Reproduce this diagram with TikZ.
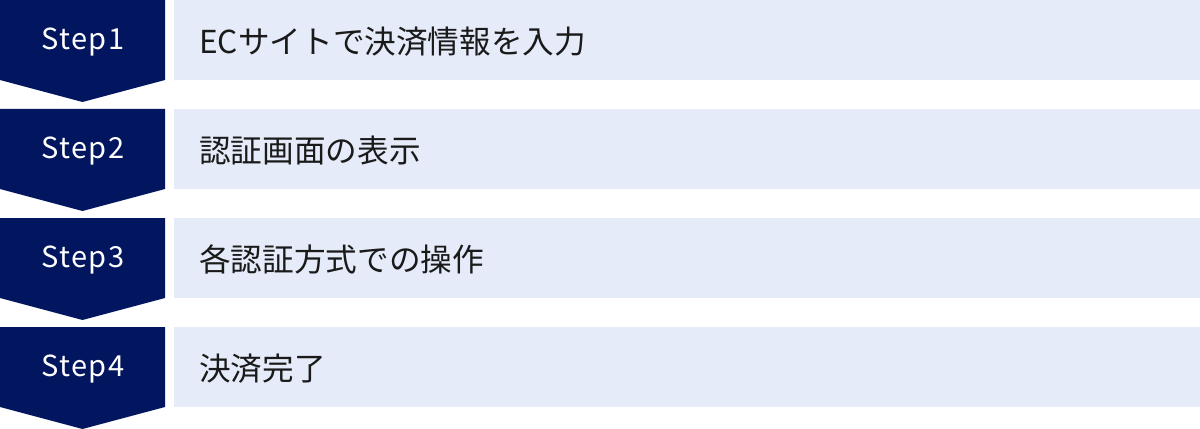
\documentclass[tikz,border=0pt]{standalone}
\usepackage{fontspec}
\setmainfont{Noto Sans CJK JP}
\newfontfamily\stepfont[LetterSpace=5]{Noto Sans CJK JP}
\usepackage{xcolor}

\definecolor{stepnavy}{HTML}{02165F}
\definecolor{rowblue}{HTML}{E5EBF8}
\definecolor{rowink}{HTML}{1A1A1A}

\begin{document}
\begin{tikzpicture}[x = 0.02cm, y = -0.02cm,
        steplabel/.style = {text = white, font = \stepfont\fontsize{16.5}{17}\selectfont, inner sep = 0},
        rowtext/.style = {text = rowink, font = \fontsize{18}{18}\selectfont, anchor = west, inner sep = 0}]
        \useasboundingbox (0,0) rectangle (1200,429);
        \foreach \i/\txt in {1/ECサイトで決済情報を入力, 2/認証画面の表示, 3/各認証方式での操作, 4/決済完了} {
            \pgfmathsetmacro{\ytop}{(\i-1)*109}
            \fill[stepnavy] (0,\ytop) -- ++(165,0) -- ++(0,80) -- ++(-82.5,22) -- ++(-82.5,-22) -- cycle;
            \fill[rowblue] (174,\ytop) rectangle ++(1026,80);
            \node[steplabel] (step\i) at (83,\ytop+42) {Step\i};
            \node[rowtext] (row\i) at (199,\ytop+41.5) {\txt};
        }
    \end{tikzpicture}
\end{document}
